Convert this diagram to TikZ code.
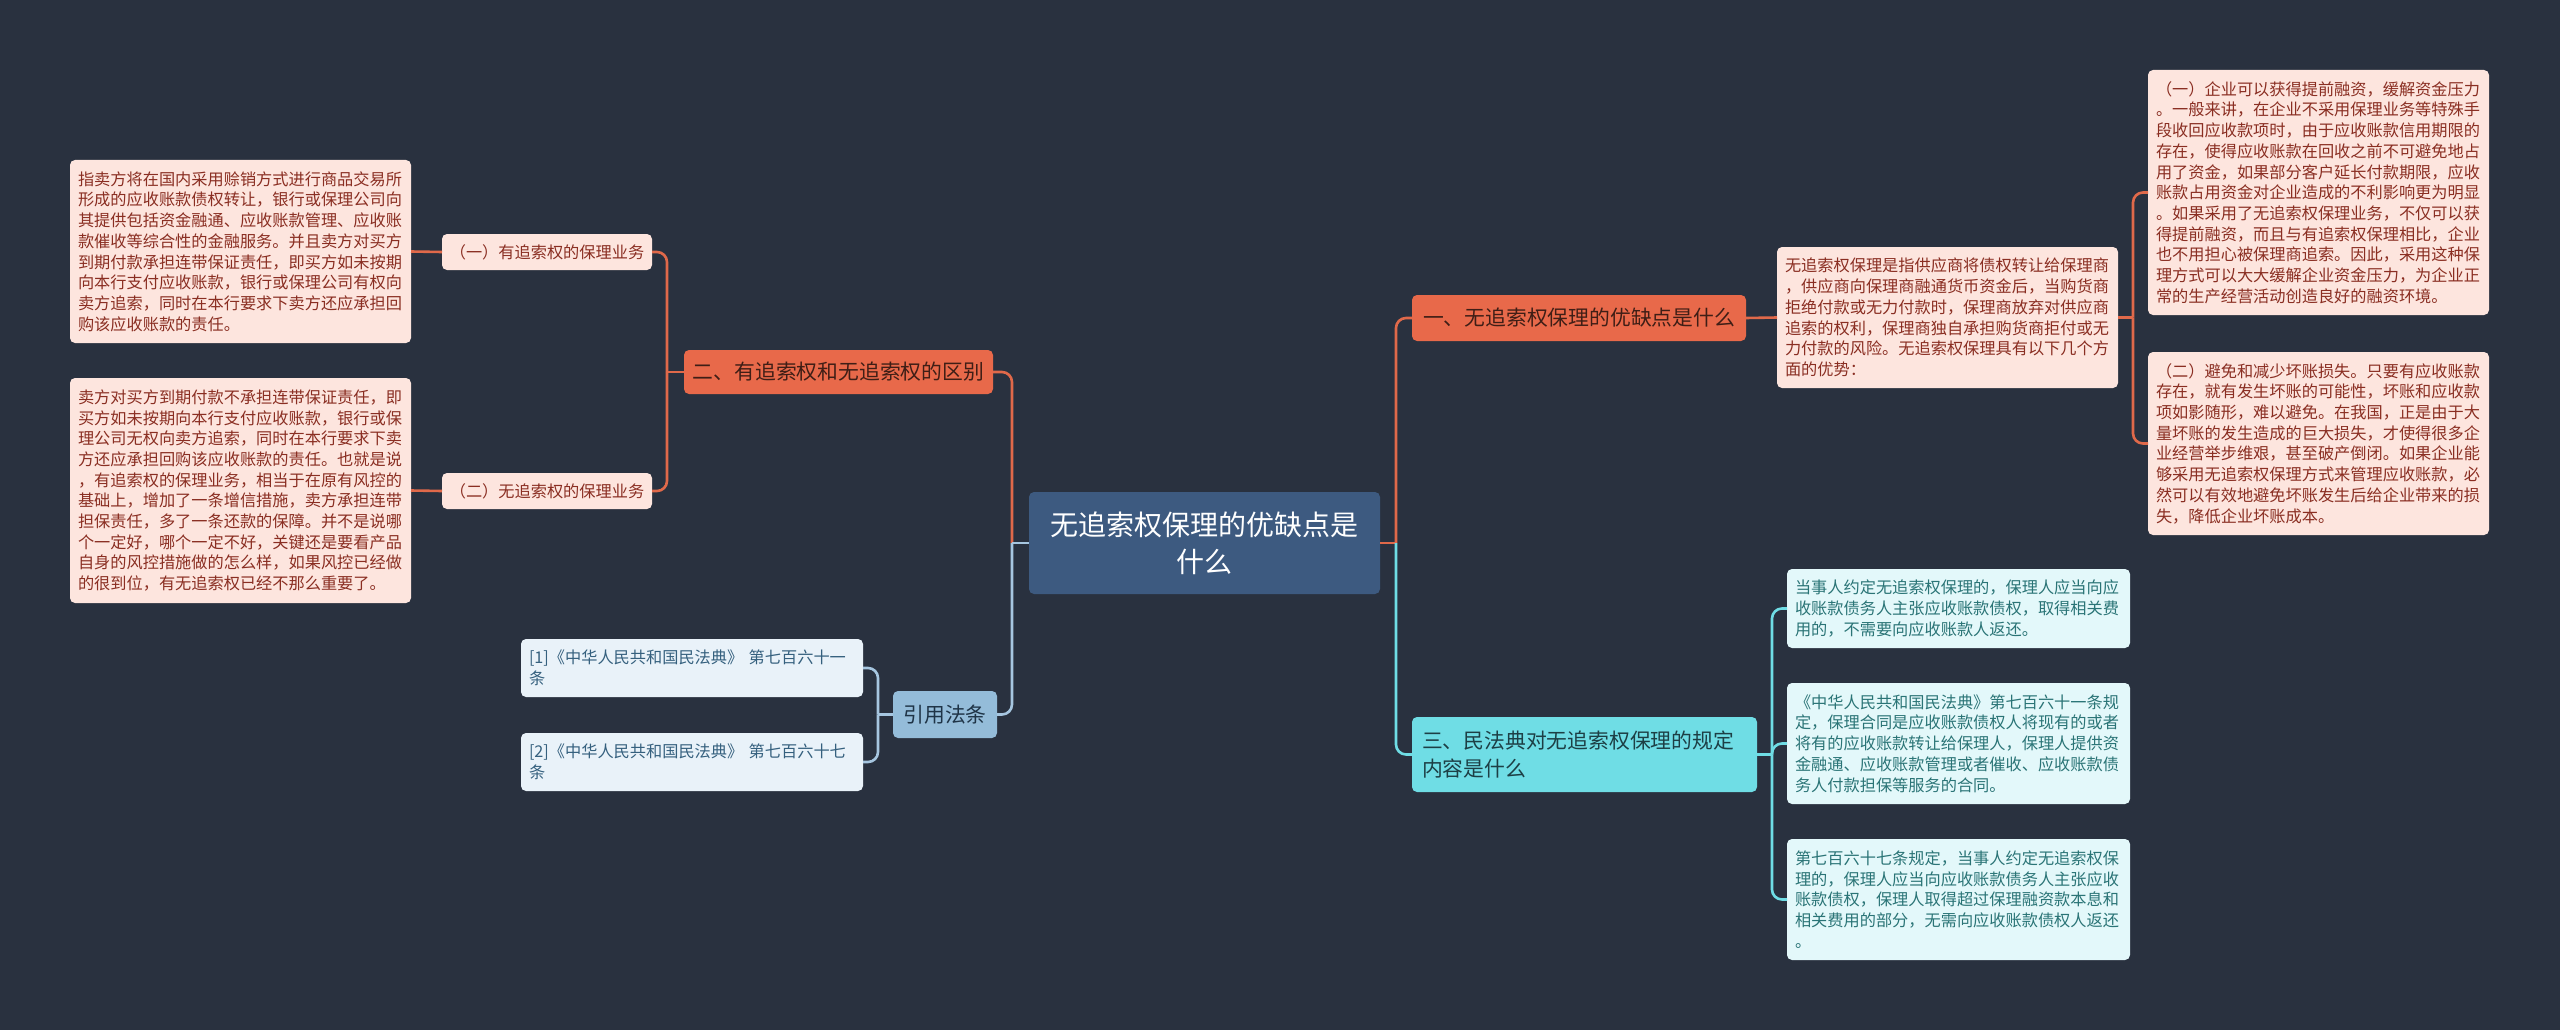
\documentclass[tikz,border=0pt]{standalone}
\usepackage{fontspec}
\setmainfont{Noto Sans CJK SC}
\usetikzlibrary{calc}
\definecolor{bg}{HTML}{29313F}
\definecolor{cfill}{HTML}{3D5A80}
\definecolor{ofill}{HTML}{E8694A}
\definecolor{otext}{HTML}{3F1E16}
\definecolor{pfill}{HTML}{FDE5DE}
\definecolor{ptext}{HTML}{8A2E22}
\definecolor{olinec}{HTML}{E0694A}
\definecolor{cyfill}{HTML}{6FDDE5}
\definecolor{cytext}{HTML}{1D3F45}
\definecolor{lcfill}{HTML}{E3F8FA}
\definecolor{lctext}{HTML}{2A7476}
\definecolor{cylinec}{HTML}{6FDDE5}
\definecolor{bfill}{HTML}{94BCD9}
\definecolor{btext}{HTML}{1F3447}
\definecolor{rfill}{HTML}{E9F2F9}
\definecolor{rtext}{HTML}{35607E}
\definecolor{blinec}{HTML}{A6C6E0}
\tikzset{
  basebox/.style={rounded corners=5pt, inner ysep=0pt, outer sep=0pt},
  centralbox/.style={basebox, fill=cfill, text=white, align=center,
    font=\fontsize{28pt}{37pt}\selectfont},
  obranch/.style={basebox, fill=ofill, text=otext, align=center,
    font=\fontsize{20.8pt}{28pt}\selectfont},
  cybranch/.style={basebox, fill=cyfill, text=cytext, align=left, inner xsep=10pt,
    font=\fontsize{20.8pt}{28pt}\selectfont},
  citebox/.style={basebox, fill=bfill, text=btext, align=center,
    font=\fontsize{20.8pt}{28pt}\selectfont},
  pinksmall/.style={basebox, fill=pfill, text=ptext, align=center,
    font=\fontsize{16.2pt}{20.7pt}\selectfont},
  pinkbox/.style={basebox, fill=pfill, text=ptext, align=left, inner xsep=8pt,
    text width=325pt, font=\fontsize{16.2pt}{20.7pt}\selectfont},
  cyanbox/.style={basebox, fill=lcfill, text=lctext, align=left, inner xsep=8pt,
    text width=327pt, font=\fontsize{16.2pt}{20.7pt}\selectfont},
  refbox/.style={basebox, fill=rfill, text=rtext, align=left, inner xsep=8pt,
    text width=326pt, font=\fontsize{16.2pt}{20.7pt}\selectfont},
  oline/.style={draw=olinec, line width=2.6pt},
  cyline/.style={draw=cylinec, line width=2.6pt},
  bline/.style={draw=blinec, line width=2.6pt},
  rc/.style={rounded corners=10pt}
}
\begin{document}
\begin{tikzpicture}[x=1pt,y=-1pt]
\fill[bg] (0,0) rectangle (2560,1030);
\useasboundingbox (0,0) rectangle (2560,1030);

% central
\node[centralbox, minimum width=351pt, minimum height=102pt] (c) at (1204.5,543) {无追索权保理的优缺点是\\什么};

% right branch one
\node[obranch, minimum width=334pt, minimum height=46pt] (b1) at (1579,318) {一、无追索权保理的优缺点是什么};
\node[pinkbox, minimum height=141pt, anchor=north west] (d1) at (1777,247) {无追索权保理是指供应商将债权转让给保理商\\，供应商向保理商融通货币资金后，当购货商\\拒绝付款或无力付款时，保理商放弃对供应商\\追索的权利，保理商独自承担购货商拒付或无\\力付款的风险。无追索权保理具有以下几个方\\面的优势：};
\node[pinkbox, minimum height=245pt, anchor=north west] (r1) at (2148,70) {（一）企业可以获得提前融资，缓解资金压力\\。一般来讲，在企业不采用保理业务等特殊手\\段收回应收款项时，由于应收账款信用期限的\\存在，使得应收账款在回收之前不可避免地占\\用了资金，如果部分客户延长付款期限，应收\\账款占用资金对企业造成的不利影响更为明显\\。如果采用了无追索权保理业务，不仅可以获\\得提前融资，而且与有追索权保理相比，企业\\也不用担心被保理商追索。因此，采用这种保\\理方式可以大大缓解企业资金压力，为企业正\\常的生产经营活动创造良好的融资环境。};
\node[pinkbox, minimum height=183pt, anchor=north west] (r2) at (2148,352) {（二）避免和减少坏账损失。只要有应收账款\\存在，就有发生坏账的可能性，坏账和应收款\\项如影随形，难以避免。在我国，正是由于大\\量坏账的发生造成的巨大损失，才使得很多企\\业经营举步维艰，甚至破产倒闭。如果企业能\\够采用无追索权保理方式来管理应收账款，必\\然可以有效地避免坏账发生后给企业带来的损\\失，降低企业坏账成本。};

% right branch three
\node[cybranch, text width=325pt, minimum height=75pt, anchor=north west] (b3) at (1412,717) {三、民法典对无追索权保理的规定\\内容是什么};
\node[cyanbox, minimum height=79pt, anchor=north west] (e1) at (1787,569) {当事人约定无追索权保理的，保理人应当向应\\收账款债务人主张应收账款债权，取得相关费\\用的，不需要向应收账款人返还。};
\node[cyanbox, minimum height=121pt, anchor=north west] (e2) at (1787,683) {《中华人民共和国民法典》第七百六十一条规\\定，保理合同是应收账款债权人将现有的或者\\将有的应收账款转让给保理人，保理人提供资\\金融通、应收账款管理或者催收、应收账款债\\务人付款担保等服务的合同。};
\node[cyanbox, minimum height=121pt, anchor=north west] (e3) at (1787,839) {第七百六十七条规定，当事人约定无追索权保\\理的，保理人应当向应收账款债务人主张应收\\账款债权，保理人取得超过保理融资款本息和\\相关费用的部分，无需向应收账款债权人返还\\。};

% left branch two
\node[obranch, minimum width=309pt, minimum height=44pt] (b2) at (838.5,372) {二、有追索权和无追索权的区别};
\node[pinksmall, minimum width=210pt, minimum height=36pt] (l1) at (547,252) {（一）有追索权的保理业务};
\node[pinksmall, minimum width=210pt, minimum height=36pt] (l2) at (547,491) {（二）无追索权的保理业务};
\node[pinkbox, minimum height=183pt, anchor=north west] (ld1) at (70,160) {指卖方将在国内采用赊销方式进行商品交易所\\形成的应收账款债权转让，银行或保理公司向\\其提供包括资金融通、应收账款管理、应收账\\款催收等综合性的金融服务。并且卖方对买方\\到期付款承担连带保证责任，即买方如未按期\\向本行支付应收账款，银行或保理公司有权向\\卖方追索，同时在本行要求下卖方还应承担回\\购该应收账款的责任。};
\node[pinkbox, minimum height=225pt, anchor=north west] (ld2) at (70,378) {卖方对买方到期付款不承担连带保证责任，即\\买方如未按期向本行支付应收账款，银行或保\\理公司无权向卖方追索，同时在本行要求下卖\\方还应承担回购该应收账款的责任。也就是说\\，有追索权的保理业务，相当于在原有风控的\\基础上，增加了一条增信措施，卖方承担连带\\担保责任，多了一条还款的保障。并不是说哪\\个一定好，哪个一定不好，关键还是要看产品\\自身的风控措施做的怎么样，如果风控已经做\\的很到位，有无追索权已经不那么重要了。};

% cite branch
\node[citebox, minimum width=104pt, minimum height=47pt] (ct) at (945,714.5) {引用法条};
\node[refbox, minimum height=58pt, anchor=north west] (f1) at (521,639) {[1]《中华人民共和国民法典》 第七百六十一\\条};
\node[refbox, minimum height=58pt, anchor=north west] (f2) at (521,733) {[2]《中华人民共和国民法典》 第七百六十七\\条};

% trunk coordinates
\coordinate (tR) at (1396,543);
\coordinate (tL) at (1012,543);
\coordinate (tD) at (2133,317.5);
\coordinate (t3) at (1772,754.5);
\coordinate (t2) at (667,372);
\coordinate (tC) at (878,714.5);

% connectors right
\draw[oline] (c.east) -- (tR);
\draw[oline, rc] (tR) |- (b1.west);
\draw[cyline, rc] (tR) |- (b3.west);
\draw[oline] (b1.east) -- (d1.west);
\draw[oline] (d1.east) -- (tD);
\draw[oline, rc] (tD) |- (r1.west);
\draw[oline, rc] (tD) |- (r2.west);
\draw[cyline] (b3.east) -- (t3);
\draw[cyline, rc] (t3) |- (e1.west);
\draw[cyline, rc] (t3) |- (e2.west);
\draw[cyline, rc] (t3) |- (e3.west);

% connectors left
\draw[oline, rc] (tL) |- (b2.east);
\draw[bline, rc] (tL) |- (ct.east);
\draw[bline] (c.west) -- (tL);
\draw[oline] (b2.west) -- (t2);
\draw[oline, rc] (t2) |- (l1.east);
\draw[oline, rc] (t2) |- (l2.east);
\draw[oline] (l1.west) -- (ld1.east);
\draw[oline] (l2.west) -- (ld2.east);
\draw[bline] (ct.west) -- (tC);
\draw[bline, rc] (tC) |- (f1.east);
\draw[bline, rc] (tC) |- (f2.east);
\end{tikzpicture}
\end{document}
